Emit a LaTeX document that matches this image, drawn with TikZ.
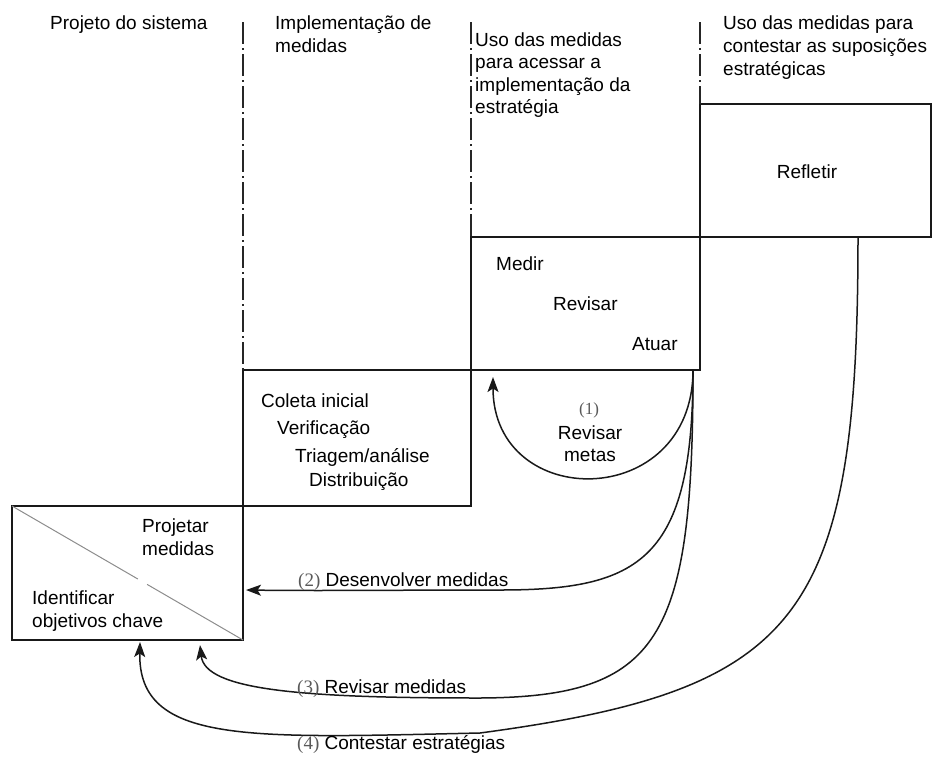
\documentclass[tikz,border=0pt]{standalone}
\usepackage{fontspec}
\setmainfont{Liberation Sans}
\newfontfamily\numfont{Liberation Serif}
\usetikzlibrary{arrows.meta,calc}
\begin{document}
\begin{tikzpicture}[x=1pt,y=-1pt,
  box/.style={draw=black!90, line width=1.5pt, inner sep=0pt, outer sep=0pt, anchor=north west},
  divider/.style={draw=black!85, line width=1.3pt, dash pattern=on 22pt off 4pt on 2pt off 4pt},
  flow/.style={draw=black!90, line width=1.5pt, -{Stealth[length=15pt,width=11pt,inset=3.5pt]}},
  lbl/.style={inner sep=0pt, anchor=base west, font=\fontsize{19}{23}\selectfont},
  num/.style={inner sep=0pt, font=\numfont\fontsize{17}{20}\selectfont, text=black!65},
  diag/.style={draw=black!45, line width=1pt}]
\useasboundingbox (0,0) rectangle (932,761);

% stage boxes, climbing like a staircase
\node[box, minimum width=231pt, minimum height=134pt] (design)   at (12,506) {};
\node[box, minimum width=228pt, minimum height=136pt] (coleta)   at (243,370) {};
\node[box, minimum width=229pt, minimum height=133pt] (medir)    at (471,237) {};
\node[box, minimum width=231pt, minimum height=133pt] (refletir) at (700,104) {};

% split of the design box
\draw[diag] (design.north west) -- ($(design.north west)!0.545!(design.south east)$);
\draw[diag] ($(design.north west)!0.585!(design.south east)$) -- (design.south east);

% column dividers
\coordinate (d1) at (243,22);
\coordinate (d2) at (471,22);
\coordinate (d3) at (700,22);
\draw[divider] (d1) -- (coleta.north west);
\draw[divider] (d2) -- (medir.north west);
\draw[divider] (d3) -- (refletir.north west);

% column headings
\node[lbl] (h1)  at (50,29)  {Projeto do sistema};
\node[lbl] (h2a) at (275,29) {Implementação de};
\node[lbl] (h2b) at (275,52) {medidas};
\node[lbl] (h3a) at (475,46) {Uso das medidas};
\node[lbl] (h3b) at (475,68.5) {para acessar a};
\node[lbl] (h3c) at (475,91) {implementação da};
\node[lbl] (h3d) at (475,113.5) {estratégia};
\node[lbl] (h4a) at (723,29) {Uso das medidas para};
\node[lbl] (h4b) at (723,52) {contestar as suposições};
\node[lbl] (h4c) at (723,75) {estratégicas};

% box contents
\node[lbl, anchor=center] (tref) at (807,172) {Refletir};
\node[lbl] (tmed) at (496,270) {Medir};
\node[lbl] (trev) at (553,310) {Revisar};
\node[lbl] (tatu) at (632,350) {Atuar};
\node[lbl] (tcol) at (261,407) {Coleta inicial};
\node[lbl] (tver) at (277,434) {Verificação};
\node[lbl] (ttri) at (295,462) {Triagem/análise};
\node[lbl] (tdis) at (309,486) {Distribuição};
\node[lbl] (tpro) at (142,532) {Projetar};
\node[lbl] (tpme) at (142,555) {medidas};
\node[lbl] (tide) at (32,604) {Identificar};
\node[lbl] (tobj) at (32,627) {objetivos chave};

% feedback loops
\coordinate (src)  at (693,370);
\coordinate (src4) at (858,237);
\coordinate (in1)  at (493,377);
\coordinate (in2)  at (246,590);
\coordinate (in3)  at (200,645);
\coordinate (in4)  at (140,642);
\draw[flow] (src) .. controls (693,512) and (493,512) .. (in1);
\draw[flow] (src) .. controls (693,560) and (640,590) .. (500,590)
                  .. controls (400,590) and (320,591) .. (in2);
\draw[flow] (src) .. controls (693,640) and (660,697) .. (480,698)
                  .. controls (300,698) and (205,690) .. (in3);
\draw[flow] (src4) .. controls (858,620) and (800,690) .. (480,733)
                   .. controls (250,738) and (138,745) .. (in4);

% loop labels
\node[num, anchor=center] (n1) at (589,410) {(1)};
\node[lbl, anchor=base] (l1a) at (590,439) {Revisar};
\node[lbl, anchor=base] (l1b) at (590,461) {metas};
\node[lbl] (l2) at (298,586) {{\numfont\color{black!65}(2)} Desenvolver medidas};
\node[lbl] (l3) at (297,693) {{\numfont\color{black!65}(3)} Revisar medidas};
\node[lbl] (l4) at (297,749) {{\numfont\color{black!65}(4)} Contestar estratégias};
\end{tikzpicture}
\end{document}
